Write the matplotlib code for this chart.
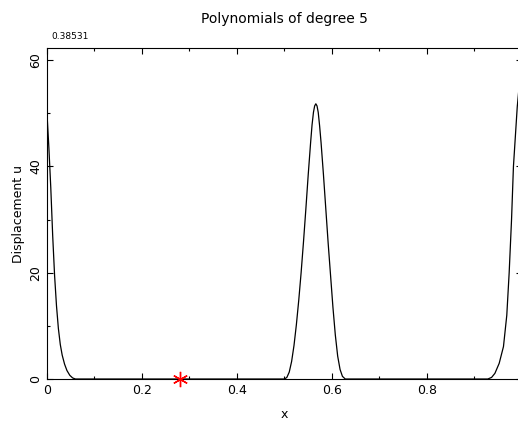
import numpy as np
import matplotlib
matplotlib.use("Agg")
from matplotlib import pyplot as plt
from matplotlib.ticker import MultipleLocator

# curve (x, displacement u)
x_vals = [0.000, 0.004, 0.008, 0.012, 0.016, 0.020, 0.024, 0.028, 0.032, 0.037,
          0.042, 0.048, 0.054, 0.060,
          0.500, 0.505, 0.510, 0.515, 0.520, 0.525, 0.530, 0.535, 0.540, 0.545,
          0.550, 0.555, 0.558, 0.561, 0.5635, 0.566, 0.5685, 0.571, 0.574, 0.577,
          0.582, 0.587, 0.592, 0.597,
          0.602, 0.607, 0.612, 0.617, 0.622, 0.628,
          0.928, 0.936, 0.943, 0.952, 0.961, 0.968, 0.973, 0.978, 0.982, 0.990, 0.996]
u_vals = [50.0, 43.5, 36.0, 27.0, 19.5, 13.8, 9.5, 6.5, 4.5, 2.8,
          1.6, 0.7, 0.2, 0.0,
          0.0, 0.3, 1.3, 3.3, 6.3, 10.2, 14.8, 20.0, 25.8, 32.0,
          38.5, 44.5, 47.8, 50.2, 51.4, 51.8, 51.4, 50.2, 47.6, 44.5,
          38.5, 32.0, 25.5, 19.5,
          13.5, 8.3, 4.3, 1.8, 0.5, 0.0,
          0.0, 0.3, 1.07, 2.95, 6.1, 12.0, 20.0, 30.0, 40.0, 51.2, 57.0]
star_x = [0.280]
star_u = [0.0]
x_ticks = [0, 0.2, 0.4, 0.6, 0.8]
u_ticks = [0, 20, 40, 60]

plt.rcParams['font.family'] = ['DejaVu Sans']

fig = plt.figure(figsize=(5.18, 4.23), dpi=100)
ax = fig.add_axes([0.0907, 0.104, 0.917, 0.7825])

ax.plot(x_vals, u_vals, color='black', lw=0.9)
ax.plot(star_x, star_u, linestyle='none', marker=(6, 2, 0), color='red',
        markersize=11, markeredgewidth=1.0, clip_on=False, zorder=5)

ax.set_xlim(0, 1.0)
ax.set_ylim(0, 62.3)
ax.set_xticks(x_ticks)
ax.set_xticklabels(['0', '0.2', '0.4', '0.6', '0.8'])
ax.set_yticks(u_ticks)
ax.xaxis.set_minor_locator(MultipleLocator(0.1))
ax.yaxis.set_minor_locator(MultipleLocator(10))
ax.tick_params(which='both', direction='in', top=True, right=True, width=0.8)
ax.tick_params(which='major', length=4.3, labelsize=9)
ax.tick_params(which='minor', length=2.4)
for lab in ax.get_yticklabels():
    lab.set_rotation(90)
    lab.set_va('center')

for s in ax.spines.values():
    s.set_linewidth(0.8)

ax.set_xlabel('x', fontsize=9, labelpad=8)
ax.set_ylabel('Displacement u', fontsize=9, labelpad=3)
ax.set_title('Polynomials of degree 5', fontsize=10, pad=18)
ax.text(0.01, 1.02, '0.38531', transform=ax.transAxes, fontsize=6.5,
        ha='left', va='bottom')

fig.savefig('out.png', dpi=100)
